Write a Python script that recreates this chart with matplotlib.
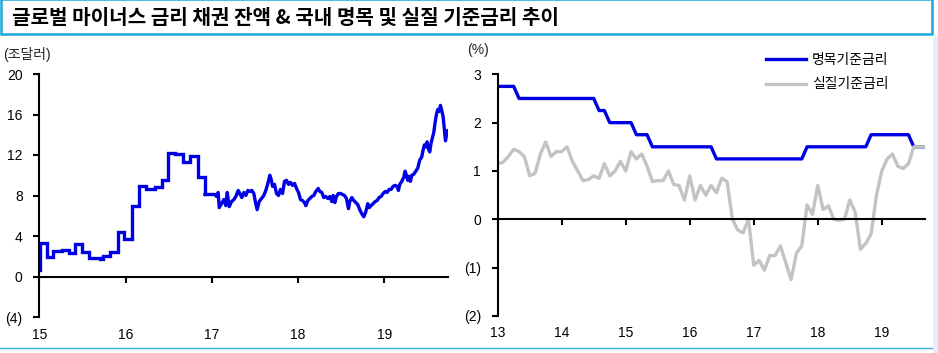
import numpy as np
import matplotlib.pyplot as plt
from matplotlib.patches import Rectangle
from matplotlib.lines import Line2D

plt.rcParams['font.family'] = ['Liberation Sans', 'Noto Sans CJK KR']
plt.rcParams['font.size'] = 10

title = "글로벌 마이너스 금리 채권 잔액 & 국내 명목 및 실질 기준금리 추이"

# left chart: global negative-yield bond stock (tn USD), x in years (15 = 2015)
step_x = [15.0, 15.005, 15.085, 15.16, 15.26, 15.34, 15.41, 15.50, 15.58, 15.70,
          15.74, 15.82, 15.915, 15.98, 16.08, 16.16, 16.24, 16.34, 16.42, 16.49,
          16.57, 16.67, 16.745, 16.84, 16.92]
step_v = [0.6, 3.3, 1.95, 2.5, 2.6, 2.35, 3.25, 2.4, 1.85, 1.75,
          2.05, 2.45, 4.4, 3.7, 7.0, 8.95, 8.65, 8.8, 9.5, 12.2,
          12.1, 11.3, 11.95, 9.85, 8.1]
daily_x = [17.035, 17.054, 17.073, 17.085, 17.112, 17.139, 17.162, 17.178, 17.201, 17.228,
           17.255, 17.278, 17.305, 17.324, 17.347, 17.371, 17.394, 17.417, 17.440, 17.463,
           17.486, 17.506, 17.525, 17.548, 17.575, 17.602, 17.625, 17.649, 17.672, 17.687,
           17.703, 17.726, 17.749, 17.772, 17.795, 17.819, 17.842, 17.865, 17.888, 17.911,
           17.934, 17.958, 17.981, 18.004, 18.027, 18.050, 18.073, 18.089, 18.112, 18.135,
           18.158, 18.181, 18.205, 18.232, 18.251, 18.274, 18.297, 18.320, 18.344, 18.367,
           18.390, 18.405, 18.425, 18.444, 18.467, 18.490, 18.514, 18.537, 18.560, 18.583,
           18.598, 18.622, 18.645, 18.668, 18.691, 18.714, 18.737, 18.761, 18.784, 18.807,
           18.822, 18.846, 18.869, 18.892, 18.915, 18.938, 18.961, 18.985, 19.008, 19.031,
           19.054, 19.077, 19.100, 19.124, 19.147, 19.162, 19.178, 19.201, 19.224, 19.239,
           19.255, 19.270, 19.286, 19.301, 19.317, 19.340, 19.363, 19.386, 19.409, 19.432,
           19.448, 19.463, 19.479, 19.494, 19.510, 19.525, 19.541, 19.556, 19.571, 19.587,
           19.602, 19.618, 19.633, 19.649, 19.664, 19.680, 19.695, 19.707, 19.718, 19.734]
daily_v = [8.1, 7.9, 8.3, 6.8, 7.2, 7.6, 7.0, 8.3, 6.9, 7.4,
           7.6, 7.9, 8.5, 8.2, 7.8, 8.3, 8.0, 8.5, 8.4, 8.5,
           8.2, 7.3, 6.6, 7.4, 7.7, 8.0, 8.5, 9.2, 10.0, 9.6,
           8.9, 9.1, 8.2, 8.0, 8.6, 8.2, 9.4, 9.5, 9.1, 9.3,
           9.0, 9.2, 8.7, 8.3, 7.6, 7.5, 7.3, 7.0, 7.5, 7.7,
           7.9, 8.0, 8.4, 8.7, 8.4, 8.3, 7.8, 7.9, 7.7, 7.9,
           7.4, 8.0, 7.3, 7.9, 8.2, 8.2, 8.1, 8.0, 7.7, 6.7,
           7.4, 7.8, 7.5, 7.3, 7.1, 6.6, 6.2, 5.9, 6.4, 7.2,
           6.8, 7.0, 7.2, 7.4, 7.5, 7.8, 7.9, 8.2, 8.4, 8.3,
           8.6, 8.6, 8.9, 9.0, 8.9, 8.5, 9.1, 9.4, 9.8, 10.4,
           10.0, 9.5, 9.9, 9.4, 10.0, 10.1, 10.4, 10.7, 11.5, 11.8,
           12.5, 13.0, 12.8, 13.3, 12.6, 12.3, 13.2, 13.7, 14.2, 15.2,
           16.0, 16.5, 16.3, 16.9, 16.4, 15.8, 14.5, 13.4, 13.9, 14.4]
left_yticks = [-4, 0, 4, 8, 12, 16, 20]
left_ylabels = ["(4)", "0", "4", "8", "12", "16", "20"]
left_xticks = [15, 16, 17, 18, 19]

# right chart: monthly, Jan 2013 .. Sep 2019 (%)
nominal = [2.75, 2.75, 2.75, 2.75, 2.5, 2.5, 2.5, 2.5, 2.5, 2.5, 2.5, 2.5,
           2.5, 2.5, 2.5, 2.5, 2.5, 2.5, 2.5, 2.25, 2.25, 2.0, 2.0, 2.0,
           2.0, 2.0, 1.75, 1.75, 1.75, 1.5, 1.5, 1.5, 1.5, 1.5, 1.5, 1.5,
           1.5, 1.5, 1.5, 1.5, 1.5, 1.25, 1.25, 1.25, 1.25, 1.25, 1.25, 1.25,
           1.25, 1.25, 1.25, 1.25, 1.25, 1.25, 1.25, 1.25, 1.25, 1.25, 1.5, 1.5,
           1.5, 1.5, 1.5, 1.5, 1.5, 1.5, 1.5, 1.5, 1.5, 1.5, 1.75, 1.75,
           1.75, 1.75, 1.75, 1.75, 1.75, 1.75, 1.5, 1.5, 1.5]
real = [1.15, 1.18, 1.3, 1.45, 1.4, 1.3, 0.9, 0.95, 1.35, 1.6, 1.3, 1.4,
        1.4, 1.5, 1.2, 1.0, 0.8, 0.82, 0.9, 0.85, 1.15, 0.9, 1.0, 1.2,
        1.0, 1.4, 1.25, 1.35, 1.1, 0.78, 0.8, 0.8, 1.0, 0.72, 0.7, 0.4,
        0.9, 0.4, 0.7, 0.5, 0.7, 0.55, 0.85, 0.78, 0.0, -0.22, -0.28, 0.0,
        -0.95, -0.85, -1.05, -0.75, -0.75, -0.55, -0.9, -1.25, -0.7, -0.55, 0.3, 0.1,
        0.7, 0.2, 0.28, 0.0, -0.02, 0.0, 0.4, 0.15, -0.62, -0.5, -0.3, 0.5,
        1.0, 1.25, 1.35, 1.1, 1.05, 1.15, 1.5, 1.5, 1.5]
right_yticks = [-2, -1, 0, 1, 2, 3]
right_ylabels = ["(2)", "(1)", "0", "1", "2", "3"]
right_xticks = [13, 14, 15, 16, 17, 18, 19]
series_names = ["명목기준금리", "실질기준금리"]

blue = "#0000e6"
grey = "#c3c3c3"
W, H = 938, 353

fig = plt.figure(figsize=(W / 100, H / 100), dpi=100)

# title box and frame decorations
fig.patches.append(Rectangle((1 / W, 1 - 33.5 / H), 930.5 / W, 34 / H, transform=fig.transFigure,
                             fill=False, edgecolor="#1ba8de", lw=1.8, clip_on=False))
fig.patches.append(Rectangle((933 / W, 0), 5 / W, 1 - 35 / H, transform=fig.transFigure,
                             facecolor="#e8edf9", edgecolor="none"))
fig.lines.append(Line2D([0, 932 / W], [1 - 347.5 / H, 1 - 347.5 / H], transform=fig.transFigure,
                        color="#3fb2da", lw=1))
fig.text(12 / W, 1 - 17.5 / H, title, fontsize=14.5, weight="bold", va="center",
         family=["Noto Sans CJK KR", "Liberation Sans"])


def style_axes(ax, yticks, ylabels, xticks, xlab_off):
    for s in ["top", "right"]:
        ax.spines[s].set_visible(False)
    ax.spines["bottom"].set_position(("data", 0))
    ax.spines["left"].set_linewidth(1.5)
    ax.spines["bottom"].set_linewidth(1.5)
    ax.set_yticks(yticks)
    ax.set_yticklabels(ylabels)
    ax.set_xticks(xticks)
    ax.set_xticklabels([])
    ax.tick_params(axis="y", direction="out", length=4, width=1.5, pad=8, labelsize=10)
    ax.tick_params(axis="x", direction="out", length=4, width=1.5)
    for xt in xticks:
        ax.annotate(str(xt), xy=(xt, 0), xycoords=("data", "axes fraction"),
                    xytext=(0, xlab_off), textcoords="offset points",
                    ha="center", va="center", fontsize=10)


# left chart
ax1 = fig.add_axes([39.3 / W, 1 - 317 / H, 409 / W, 243 / H])
ax1.plot(step_x, step_v, drawstyle="steps-post", color=blue, lw=2.4, solid_joinstyle="miter")
ax1.plot([step_x[-1]] + daily_x, [step_v[-1]] + daily_v, color=blue, lw=2.4)
ax1.set_xlim(15, 19.74)
ax1.set_ylim(-4, 20)
style_axes(ax1, left_yticks, left_ylabels, left_xticks, -13)
fig.text(3 / W, 1 - 55 / H, "(조달러)", fontsize=10, va="center", color="#222222")

# right chart
ax2 = fig.add_axes([497.7 / W, 1 - 316 / H, 427.3 / W, 241.7 / H])
months = 13 + np.arange(len(nominal)) / 12
ax2.plot(months, nominal, color=blue, lw=2.4, label=series_names[0])
ax2.plot(months, real, color=grey, lw=2.4, label=series_names[1])
ax2.set_xlim(13, 19.675)
ax2.set_ylim(-2, 3)
style_axes(ax2, right_yticks, right_ylabels, right_xticks, -12)
fig.text(467 / W, 1 - 50 / H, "(%)", fontsize=10, va="center", color="#222222")
ax2.legend(loc="upper left", bbox_to_anchor=(766 / W, 1 - 53 / H), bbox_transform=fig.transFigure,
           frameon=False, fontsize=10, handlelength=2.9, handletextpad=0.4,
           labelspacing=0.75, borderpad=0, borderaxespad=0,
           prop={"family": ["Noto Sans CJK KR"], "size": 10})

fig.savefig("out.png", dpi=100)
